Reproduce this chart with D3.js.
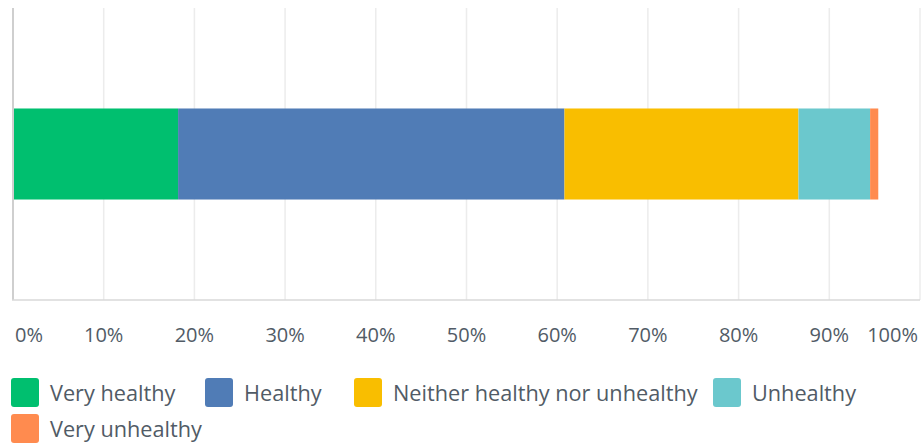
<!DOCTYPE html>
<html>
<head>
<meta charset="utf-8">
<script src="https://cdn.jsdelivr.net/npm/d3@7"></script>
<style>
  html, body { margin: 0; padding: 0; background: #fff; }
  svg { display: block; }
  text { font-family: "Open Sans", "DejaVu Sans", sans-serif; }
</style>
</head>
<body>
<svg id="chart" width="924" height="445"></svg>
<script>
// ---- data ----
const categories = ["Very healthy", "Healthy", "Neither healthy nor unhealthy", "Unhealthy", "Very unhealthy"];
const values = [18.2, 42.6, 25.8, 7.9, 0.9];
const colors = ["#00bf6f", "#507cb6", "#f9be00", "#6bc8cd", "#ff8b4f"];
const tickValues = [0, 10, 20, 30, 40, 50, 60, 70, 80, 90, 100];
const tickLabels = ["0%", "10%", "20%", "30%", "40%", "50%", "60%", "70%", "80%", "90%", "100%"];
const rowLabel = ["Q"];

// ---- layout ----
const W = 924, H = 445;
const plot = { left: 13, right: 920, top: 8, bottom: 300 };
const textColor = "#515b66";

const svg = d3.select("#chart");

const x = d3.scaleLinear().domain([0, 100]).range([plot.left, plot.right]);
const y = d3.scaleBand().domain(rowLabel).range([plot.top, plot.bottom]).paddingInner(0).paddingOuter(1.104);

// gridlines
svg.append("g").selectAll("line")
  .data(tickValues.filter(d => d > 0))
  .join("line")
  .attr("x1", d => x(d)).attr("x2", d => x(d))
  .attr("y1", plot.top).attr("y2", plot.bottom)
  .attr("stroke", "#ececec").attr("stroke-width", 1.5);

// stacked bar
let cum = 0;
const segs = values.map((v, i) => { const s = { start: cum, end: cum + v, color: colors[i], cat: categories[i] }; cum += v; return s; });
svg.append("g").selectAll("rect")
  .data(segs)
  .join("rect")
  .attr("x", d => x(d.start))
  .attr("width", d => x(d.end) - x(d.start))
  .attr("y", y(rowLabel[0]))
  .attr("height", y.bandwidth())
  .attr("fill", d => d.color);

// axes lines
svg.append("line")
  .attr("x1", plot.left).attr("x2", plot.left)
  .attr("y1", plot.top).attr("y2", plot.bottom)
  .attr("stroke", "#cfcfcf").attr("stroke-width", 2);
svg.append("line")
  .attr("x1", plot.left - 1).attr("x2", plot.right)
  .attr("y1", plot.bottom).attr("y2", plot.bottom)
  .attr("stroke", "#d8d8d8").attr("stroke-width", 1.5);

// tick labels
svg.append("g").selectAll("text")
  .data(tickValues)
  .join("text")
  .attr("x", (d, i) => i === 0 ? 15 : (i === tickValues.length - 1 ? 918 : x(d)))
  .attr("y", 342)
  .attr("text-anchor", (d, i) => i === 0 ? "start" : (i === tickValues.length - 1 ? "end" : "middle"))
  .attr("font-size", 20)
  .attr("fill", textColor)
  .text((d, i) => tickLabels[i]);

// legend
const legendPos = [[11, 378], [205, 378], [354, 378], [713, 378], [11, 414]];
const lg = svg.append("g").selectAll("g")
  .data(categories)
  .join("g")
  .attr("transform", (d, i) => `translate(${legendPos[i][0]},${legendPos[i][1]})`);
lg.append("rect")
  .attr("width", 28).attr("height", 29).attr("rx", 3)
  .attr("fill", (d, i) => colors[i]);
lg.append("text")
  .attr("x", 39).attr("y", 23)
  .attr("font-size", 21.7)
  .attr("fill", textColor)
  .text(d => d);
</script>
</body>
</html>
